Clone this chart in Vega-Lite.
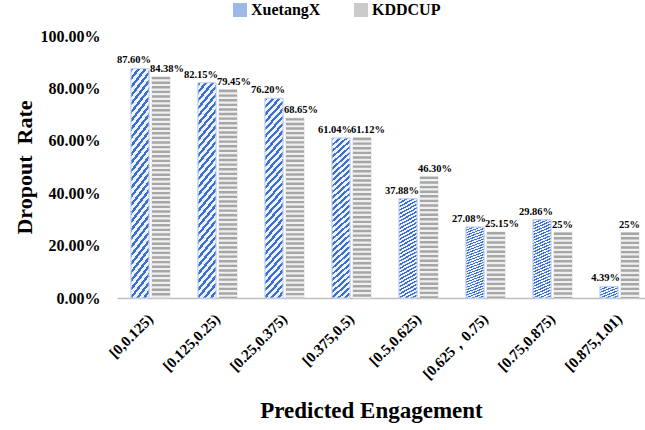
{
  "$schema": "https://vega.github.io/schema/vega-lite/v6.json",
  "width": 528,
  "height": 262,
  "autosize": {"type": "none"},
  "padding": {"left": 117, "top": 36, "right": 0, "bottom": 132},
  "background": "white",
  "config": {"font": "Liberation Serif", "view": {"stroke": null}},
  "data": {
    "values": [
      {"bin": "[0,0.125)", "series": "XuetangX", "rate": 87.60, "label": "87.60%"},
      {"bin": "[0,0.125)", "series": "KDDCUP", "rate": 84.38, "label": "84.38%"},
      {"bin": "[0.125,0.25)", "series": "XuetangX", "rate": 82.15, "label": "82.15%"},
      {"bin": "[0.125,0.25)", "series": "KDDCUP", "rate": 79.45, "label": "79.45%"},
      {"bin": "[0.25,0.375)", "series": "XuetangX", "rate": 76.20, "label": "76.20%"},
      {"bin": "[0.25,0.375)", "series": "KDDCUP", "rate": 68.65, "label": "68.65%"},
      {"bin": "[0.375,0.5)", "series": "XuetangX", "rate": 61.04, "label": "61.04%"},
      {"bin": "[0.375,0.5)", "series": "KDDCUP", "rate": 61.12, "label": "61.12%"},
      {"bin": "[0.5,0.625)", "series": "XuetangX", "rate": 37.88, "label": "37.88%"},
      {"bin": "[0.5,0.625)", "series": "KDDCUP", "rate": 46.30, "label": "46.30%"},
      {"bin": "[0.625，0.75)", "series": "XuetangX", "rate": 27.08, "label": "27.08%"},
      {"bin": "[0.625，0.75)", "series": "KDDCUP", "rate": 25.15, "label": "25.15%"},
      {"bin": "[0.75,0.875)", "series": "XuetangX", "rate": 29.86, "label": "29.86%"},
      {"bin": "[0.75,0.875)", "series": "KDDCUP", "rate": 25, "label": "25%"},
      {"bin": "[0.875,1.01)", "series": "XuetangX", "rate": 4.39, "label": "4.39%"},
      {"bin": "[0.875,1.01)", "series": "KDDCUP", "rate": 25, "label": "25%"}
    ]
  },
  "encoding": {
    "x": {
      "field": "bin",
      "type": "nominal",
      "sort": null,
      "scale": {"range": [0, 536], "paddingInner": 0, "paddingOuter": 0},
      "axis": {
        "title": "Predicted Engagement",
        "titleFont": "Liberation Serif",
        "titleFontSize": 23,
        "titleFontWeight": "bold",
        "titleColor": "#000000",
        "titleX": 254,
        "titleY": 119,
        "titleAlign": "center",
        "titleBaseline": "alphabetic",
        "labelAngle": -45,
        "labelAlign": "right",
        "labelBaseline": "middle",
        "labelPadding": 18,
        "labelFont": "Liberation Serif",
        "labelFontSize": 15,
        "labelFontWeight": "bold",
        "labelColor": "#000000",
        "ticks": false,
        "domainColor": "#bfbfbf",
        "domainWidth": 1.5,
        "grid": false
      }
    },
    "xOffset": {
      "field": "series",
      "type": "nominal",
      "scale": {"domain": ["XuetangX", "KDDCUP"], "paddingInner": 0.143, "paddingOuter": 0.667}
    },
    "y": {
      "field": "rate",
      "type": "quantitative",
      "scale": {"domain": [0, 100]},
      "axis": {
        "title": "Dropout\u00a0 Rate",
        "titleFont": "Liberation Serif",
        "titleFontSize": 22,
        "titleFontWeight": "bold",
        "titleColor": "#000000",
        "titlePadding": 4,
        "values": [0, 20, 40, 60, 80, 100],
        "labelExpr": "format(datum.value, '.2f') + '%'",
        "labelFont": "Liberation Serif",
        "labelFontSize": 16,
        "labelFontWeight": "bold",
        "labelColor": "#000000",
        "labelPadding": 17,
        "ticks": false,
        "domain": false,
        "grid": false
      }
    }
  },
  "layer": [
    {
      "mark": {"type": "bar", "strokeWidth": 1},
      "encoding": {
        "fill": {
          "field": "series",
          "type": "nominal",
          "scale": {"domain": ["XuetangX", "KDDCUP"], "range": ["#9eb8e9", "#cbcbcb"]},
          "legend": {
            "orient": "none",
            "direction": "horizontal",
            "legendX": 115,
            "legendY": -34,
            "title": null,
            "symbolType": "square",
            "symbolSize": 196,
            "symbolStrokeWidth": 0,
            "labelFont": "Liberation Serif",
            "labelFontSize": 16,
            "labelFontWeight": "bold",
            "labelColor": "#000000",
            "labelOffset": 3,
            "columnPadding": 32
          }
        },
        "stroke": {
          "condition": {"test": "datum.series === 'XuetangX'", "value": "#c3d4f2"},
          "value": "#dcdcdc"
        }
      }
    },
    {
      "transform": [{"filter": "datum.series === 'XuetangX'"}],
      "mark": {"type": "bar", "strokeWidth": 1, "stroke": "#c3d4f2", "fill": {"gradient": "linear", "x1": 0, "y1": 0, "x2": 0.109, "y2": 1.089, "stops": [
                {"offset": 0, "color": "#3d6fd2"}, {"offset": 0.015, "color": "#3d6fd2"}, {"offset": 0.015, "color": "#eef3fc"}, {"offset": 0.0333, "color": "#eef3fc"},
                {"offset": 0.0333, "color": "#3d6fd2"}, {"offset": 0.0483, "color": "#3d6fd2"}, {"offset": 0.0483, "color": "#eef3fc"}, {"offset": 0.0667, "color": "#eef3fc"},
                {"offset": 0.0667, "color": "#3d6fd2"}, {"offset": 0.0817, "color": "#3d6fd2"}, {"offset": 0.0817, "color": "#eef3fc"}, {"offset": 0.1, "color": "#eef3fc"},
                {"offset": 0.1, "color": "#3d6fd2"}, {"offset": 0.115, "color": "#3d6fd2"}, {"offset": 0.115, "color": "#eef3fc"}, {"offset": 0.1333, "color": "#eef3fc"},
                {"offset": 0.1333, "color": "#3d6fd2"}, {"offset": 0.1483, "color": "#3d6fd2"}, {"offset": 0.1483, "color": "#eef3fc"}, {"offset": 0.1667, "color": "#eef3fc"},
                {"offset": 0.1667, "color": "#3d6fd2"}, {"offset": 0.1817, "color": "#3d6fd2"}, {"offset": 0.1817, "color": "#eef3fc"}, {"offset": 0.2, "color": "#eef3fc"},
                {"offset": 0.2, "color": "#3d6fd2"}, {"offset": 0.215, "color": "#3d6fd2"}, {"offset": 0.215, "color": "#eef3fc"}, {"offset": 0.2333, "color": "#eef3fc"},
                {"offset": 0.2333, "color": "#3d6fd2"}, {"offset": 0.2483, "color": "#3d6fd2"}, {"offset": 0.2483, "color": "#eef3fc"}, {"offset": 0.2667, "color": "#eef3fc"},
                {"offset": 0.2667, "color": "#3d6fd2"}, {"offset": 0.2817, "color": "#3d6fd2"}, {"offset": 0.2817, "color": "#eef3fc"}, {"offset": 0.3, "color": "#eef3fc"},
                {"offset": 0.3, "color": "#3d6fd2"}, {"offset": 0.315, "color": "#3d6fd2"}, {"offset": 0.315, "color": "#eef3fc"}, {"offset": 0.3333, "color": "#eef3fc"},
                {"offset": 0.3333, "color": "#3d6fd2"}, {"offset": 0.3483, "color": "#3d6fd2"}, {"offset": 0.3483, "color": "#eef3fc"}, {"offset": 0.3667, "color": "#eef3fc"},
                {"offset": 0.3667, "color": "#3d6fd2"}, {"offset": 0.3817, "color": "#3d6fd2"}, {"offset": 0.3817, "color": "#eef3fc"}, {"offset": 0.4, "color": "#eef3fc"},
                {"offset": 0.4, "color": "#3d6fd2"}, {"offset": 0.415, "color": "#3d6fd2"}, {"offset": 0.415, "color": "#eef3fc"}, {"offset": 0.4333, "color": "#eef3fc"},
                {"offset": 0.4333, "color": "#3d6fd2"}, {"offset": 0.4483, "color": "#3d6fd2"}, {"offset": 0.4483, "color": "#eef3fc"}, {"offset": 0.4667, "color": "#eef3fc"},
                {"offset": 0.4667, "color": "#3d6fd2"}, {"offset": 0.4817, "color": "#3d6fd2"}, {"offset": 0.4817, "color": "#eef3fc"}, {"offset": 0.5, "color": "#eef3fc"},
                {"offset": 0.5, "color": "#3d6fd2"}, {"offset": 0.515, "color": "#3d6fd2"}, {"offset": 0.515, "color": "#eef3fc"}, {"offset": 0.5333, "color": "#eef3fc"},
                {"offset": 0.5333, "color": "#3d6fd2"}, {"offset": 0.5483, "color": "#3d6fd2"}, {"offset": 0.5483, "color": "#eef3fc"}, {"offset": 0.5667, "color": "#eef3fc"},
                {"offset": 0.5667, "color": "#3d6fd2"}, {"offset": 0.5817, "color": "#3d6fd2"}, {"offset": 0.5817, "color": "#eef3fc"}, {"offset": 0.6, "color": "#eef3fc"},
                {"offset": 0.6, "color": "#3d6fd2"}, {"offset": 0.615, "color": "#3d6fd2"}, {"offset": 0.615, "color": "#eef3fc"}, {"offset": 0.6333, "color": "#eef3fc"},
                {"offset": 0.6333, "color": "#3d6fd2"}, {"offset": 0.6483, "color": "#3d6fd2"}, {"offset": 0.6483, "color": "#eef3fc"}, {"offset": 0.6667, "color": "#eef3fc"},
                {"offset": 0.6667, "color": "#3d6fd2"}, {"offset": 0.6817, "color": "#3d6fd2"}, {"offset": 0.6817, "color": "#eef3fc"}, {"offset": 0.7, "color": "#eef3fc"},
                {"offset": 0.7, "color": "#3d6fd2"}, {"offset": 0.715, "color": "#3d6fd2"}, {"offset": 0.715, "color": "#eef3fc"}, {"offset": 0.7333, "color": "#eef3fc"},
                {"offset": 0.7333, "color": "#3d6fd2"}, {"offset": 0.7483, "color": "#3d6fd2"}, {"offset": 0.7483, "color": "#eef3fc"}, {"offset": 0.7667, "color": "#eef3fc"},
                {"offset": 0.7667, "color": "#3d6fd2"}, {"offset": 0.7817, "color": "#3d6fd2"}, {"offset": 0.7817, "color": "#eef3fc"}, {"offset": 0.8, "color": "#eef3fc"},
                {"offset": 0.8, "color": "#3d6fd2"}, {"offset": 0.815, "color": "#3d6fd2"}, {"offset": 0.815, "color": "#eef3fc"}, {"offset": 0.8333, "color": "#eef3fc"},
                {"offset": 0.8333, "color": "#3d6fd2"}, {"offset": 0.8483, "color": "#3d6fd2"}, {"offset": 0.8483, "color": "#eef3fc"}, {"offset": 0.8667, "color": "#eef3fc"},
                {"offset": 0.8667, "color": "#3d6fd2"}, {"offset": 0.8817, "color": "#3d6fd2"}, {"offset": 0.8817, "color": "#eef3fc"}, {"offset": 0.9, "color": "#eef3fc"},
                {"offset": 0.9, "color": "#3d6fd2"}, {"offset": 0.915, "color": "#3d6fd2"}, {"offset": 0.915, "color": "#eef3fc"}, {"offset": 0.9333, "color": "#eef3fc"},
                {"offset": 0.9333, "color": "#3d6fd2"}, {"offset": 0.9483, "color": "#3d6fd2"}, {"offset": 0.9483, "color": "#eef3fc"}, {"offset": 0.9667, "color": "#eef3fc"},
                {"offset": 0.9667, "color": "#3d6fd2"}, {"offset": 0.9817, "color": "#3d6fd2"}, {"offset": 0.9817, "color": "#eef3fc"}, {"offset": 1, "color": "#eef3fc"}
              ]}},
      "encoding": {}
    },
    {
      "transform": [{"filter": "datum.series === 'KDDCUP'"}],
      "mark": {"type": "rule", "strokeWidth": 18, "color": "#f0f0f0"},
      "encoding": {"y2": {"datum": 0}}
    },
    {
      "transform": [{"filter": "datum.series === 'KDDCUP'"}],
      "mark": {"type": "rule", "strokeWidth": 18, "strokeDash": [2.4, 2.2], "color": "#a6a6a6"},
      "encoding": {"y2": {"datum": 0}}
    },
    {
      "transform": [{"filter": "datum.series === 'XuetangX'"}],
      "mark": {"type": "text", "font": "Liberation Serif", "fontSize": 10.5, "fontWeight": "bold", "color": "#000000", "align": "right", "baseline": "alphabetic", "dx": 11, "dy": -5},
      "encoding": {"text": {"field": "label"}}
    },
    {
      "transform": [{"filter": "datum.series === 'KDDCUP'"}],
      "mark": {"type": "text", "font": "Liberation Serif", "fontSize": 10.5, "fontWeight": "bold", "color": "#000000", "align": "left", "baseline": "alphabetic", "dx": -11, "dy": -5},
      "encoding": {"text": {"field": "label"}}
    }
  ]
}
